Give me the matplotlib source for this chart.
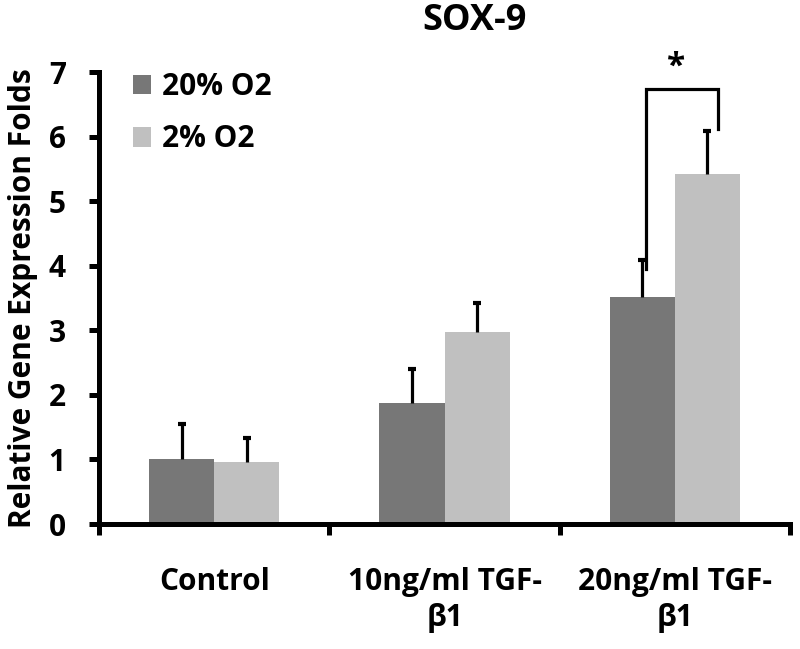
import matplotlib
matplotlib.use("Agg")
import matplotlib.pyplot as plt
import numpy as np
from matplotlib.patches import Patch

categories = ["Control", "10ng/ml TGF-\nβ1", "20ng/ml TGF-\nβ1"]
series_names = ["20% O2", "2% O2"]
high_o2 = [1.00, 1.88, 3.51]
low_o2 = [0.96, 2.97, 5.42]
high_o2_err = [0.55, 0.52, 0.58]
low_o2_err = [0.37, 0.46, 0.66]
yticks = [0, 1, 2, 3, 4, 5, 6, 7]

plt.rcParams['font.family'] = ['Open Sans', 'DejaVu Sans']
plt.rcParams['font.weight'] = 'bold'
FS = 21.5

fig = plt.figure(figsize=(8, 6.49), dpi=100)
ax = fig.add_axes([0.124, 0.1926, 0.8635, 0.6964])

x = np.arange(len(categories))
w = 0.283
c_dark = "#777777"
c_light = "#c0c0c0"
ax.bar(x - w / 2, high_o2, w, color=c_dark, zorder=2)
ax.bar(x + w / 2, low_o2, w, color=c_light, zorder=2)

for xs, vals, errs in [(x - w / 2, high_o2, high_o2_err), (x + w / 2, low_o2, low_o2_err)]:
    eb = ax.errorbar(xs, vals, yerr=[np.zeros(len(vals)), errs], fmt='none',
                     ecolor='black', elinewidth=2.3, capsize=3, capthick=3, zorder=3)
    eb[1][0].set_visible(False)

# significance bracket
gi = 2
lx = x[gi] - 0.127
rx = x[gi] + 0.188
ytop = 6.73
ax.plot([lx, lx, rx, rx], [high_o2[gi] + high_o2_err[gi] - 0.14, ytop, ytop,
        low_o2[gi] + low_o2_err[gi] + 0.04], color='black', lw=2.3,
        solid_joinstyle='miter', zorder=3, clip_on=False)
ax.text(x[gi] + 0.004, 7.08, "*", ha='center', va='center', fontsize=24,
        fontweight='bold', clip_on=False)

ax.set_xlim(-0.5, 2.5)
ax.set_ylim(0, 7)
ax.set_yticks(yticks)
ax.set_yticklabels([str(t) for t in yticks], fontsize=FS, fontweight='bold')
ax.set_xticks(x)
ax.set_xticklabels(categories, fontsize=FS, fontweight='bold', linespacing=1.25)
ax.set_xticks([-0.5, 0.5, 1.5, 2.5], minor=True)
ax.tick_params(axis='x', which='major', length=0, pad=31)
ax.tick_params(axis='x', which='minor', length=8, width=3.6, direction='out')
ax.tick_params(axis='y', which='major', length=7, width=3.6, direction='out', pad=17)

for s in ['top', 'right']:
    ax.spines[s].set_visible(False)
for s in ['left', 'bottom']:
    ax.spines[s].set_linewidth(3.6)

ax.set_ylabel("Relative Gene Expression Folds", fontsize=FS, fontweight='bold')
ax.yaxis.set_label_coords(-0.088, 0.5)

handles = [Patch(facecolor=c_dark, edgecolor='none'), Patch(facecolor=c_light, edgecolor='none')]
leg = ax.legend(handles, series_names, loc='upper left', bbox_to_anchor=(0.0485, 1.0),
                frameon=False, borderpad=0, borderaxespad=0, handlelength=0.62,
                handleheight=0.62, handletextpad=0.35, labelspacing=0.75,
                prop={'size': FS, 'weight': 'bold'})

fig.text(475 / 800, 1 - 21 / 649, "SOX-9", ha='center', va='center', fontsize=26,
         fontweight='bold')

fig.savefig("out.png", dpi=100)
